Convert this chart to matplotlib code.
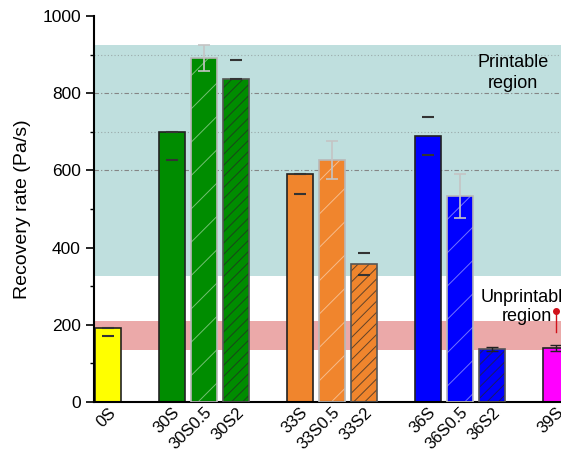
import matplotlib.pyplot as plt
import matplotlib.transforms as mtransforms
import numpy as np

plt.rcParams['font.family'] = ['Liberation Sans', 'DejaVu Sans']

samples = ['0S', '30S', '30S0.5', '30S2', '33S', '33S0.5', '33S2',
           '36S', '36S0.5', '36S2', '39S']
pos = [0, 2, 3, 4, 6, 7, 8, 10, 11, 12, 14]
rate = [192, 700, 891, 837, 591, 627, 358, 689, 533, 138, 140]
err_lo = [21, 73, 33, 0, 52, 50, 29, 49, 56, 5, 8]
err_hi = [0, 0, 33, 49, 0, 50, 28, 49, 58, 5, 8]
colors = ['#ffff00', '#008c00', '#008c00', '#008c00', '#f0852d', '#f0852d',
          '#f0852d', '#0000ff', '#0000ff', '#0000ff', '#ff00ff']
kind = ['solid', 'solid', 'half', 'dense', 'solid', 'half', 'dense',
        'solid', 'half', 'dense', 'solid']

printable = (326, 925)
unprintable = (135, 210)

fig = plt.figure(figsize=(5.61, 4.54), dpi=100)
ax = fig.add_axes([94/561, 52/454, 494/561, 386/454])

ax.axhspan(*printable, color='#bfdfde', zorder=0, lw=0)
ax.axhspan(*unprintable, color='#eba9a9', zorder=0, lw=0)
for g, ls in [(600, (0, (4, 2, 1, 2))), (700, (0, (1, 2))),
              (800, (0, (4, 2, 1, 2))), (900, (0, (1, 2)))]:
    ax.axhline(g, color='#9aaaaa' if g % 200 else '#858585', lw=0.8,
               ls=ls, zorder=1)

plt.rcParams['hatch.linewidth'] = 0.7
for p, v, c, k in zip(pos, rate, colors, kind):
    if k == 'solid':
        ax.bar(p, v, width=0.8, color=c, edgecolor='#222222', lw=1.2, zorder=2)
    elif k == 'half':
        ax.bar(p, v, width=0.8, color=c, edgecolor=(1, 1, 1, 0.45), hatch='/',
               lw=0, zorder=2)
        ax.bar(p, v, width=0.8, fill=False, edgecolor='#b8b8b8', lw=1.2,
               zorder=3)
    else:
        ax.bar(p, v, width=0.8, color=c, edgecolor=(0.15, 0.15, 0.15, 0.7),
               hatch='///', lw=0, zorder=2)
        ax.bar(p, v, width=0.8, fill=False, edgecolor='#555555', lw=1.2,
               zorder=3)

# error bars
for p, v, lo, hi, k in zip(pos, rate, err_lo, err_hi, kind):
    if k == 'half':
        ax.errorbar(p, v, yerr=[[lo], [hi]], fmt='none', ecolor='#c4c4c4',
                    elinewidth=1.2, capsize=4, capthick=1.2, zorder=4)
    elif v < 200 and p > 0:
        ax.errorbar(p, v, yerr=[[lo], [hi]], fmt='none', ecolor='#222222',
                    elinewidth=1, capsize=4, capthick=1, zorder=4)
    else:
        ax.errorbar(p, v, yerr=[[lo], [hi]], fmt='none', ecolor='#333333',
                    elinewidth=0, capsize=4, capthick=1.5, zorder=4)

# red marker above 39S
ax.plot([14, 14], [181, 236], color='#d0101a', lw=1, zorder=5)
ax.plot(14, 236, 'o', color='#d0101a', ms=4, zorder=5)

ax.text(12.66, 852, 'Printable\nregion', ha='center', va='center',
        fontsize=13, linespacing=1.3, zorder=6)
ax.text(13.1, 246, 'Unprintable\nregion', ha='center', va='center',
        fontsize=13, linespacing=1.2, zorder=6)

ax.set_xlim(-0.44, 15)
ax.set_ylim(0, 1000)
ax.set_yticks(np.arange(0, 1001, 200))
ax.set_yticks(np.arange(100, 1000, 200), minor=True)
ax.tick_params(axis='y', which='major', length=6, width=1.2, labelsize=12.5)
ax.tick_params(axis='y', which='minor', length=3, width=1)
ax.set_xticks(pos)
ax.set_xticklabels(samples, rotation=45, ha='right', va='top',
                   rotation_mode='anchor', fontsize=12)
shift = mtransforms.ScaledTranslation(8/100, 0, fig.dpi_scale_trans)
for lab in ax.get_xticklabels():
    lab.set_transform(lab.get_transform() + shift)
ax.tick_params(axis='x', length=0, pad=2)
ax.set_ylabel('Recovery rate (Pa/s)', fontsize=14, labelpad=8)
for s in ['top', 'right']:
    ax.spines[s].set_visible(False)
ax.spines['left'].set_linewidth(1.5)
ax.spines['bottom'].set_linewidth(1.5)

fig.savefig('out.png', dpi=100)
